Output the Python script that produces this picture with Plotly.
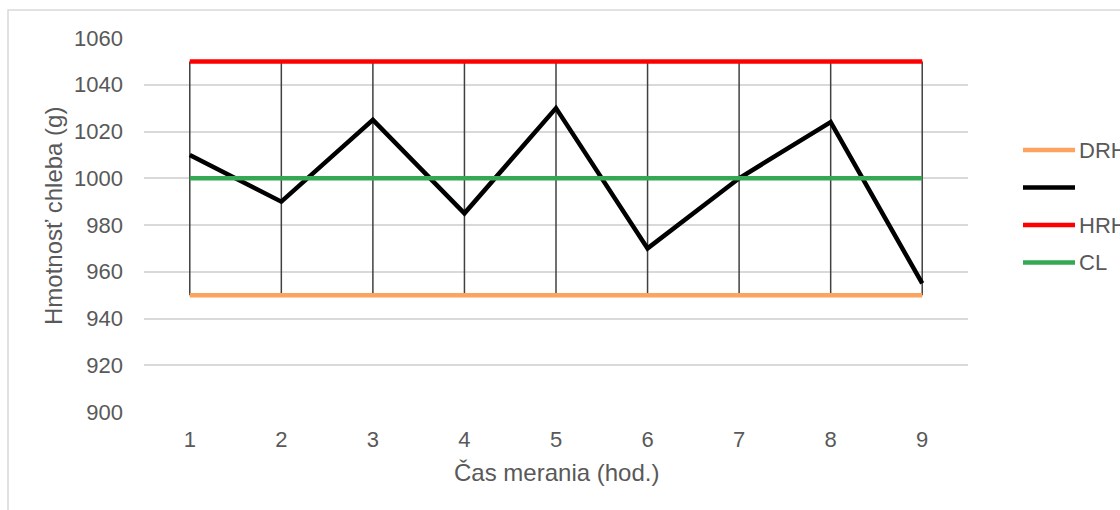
import plotly.graph_objects as go

# Measurement hours and bread weights (g)
hours = ["1", "2", "3", "4", "5", "6", "7", "8", "9"]
weight = [1010, 990, 1025, 985, 1030, 970, 1000, 1024, 955]
drh = [950] * 9   # lower control limit
hrh = [1050] * 9  # upper control limit
cl = [1000] * 9   # centre line
y_ticks = [900, 920, 940, 960, 980, 1000, 1020, 1040, 1060]

FONT = "Liberation Sans, Arial, sans-serif"
TXT = "#595959"
FS_TICK = 22
FS_TITLE = 24

# plot area in pixels
W, H = 1120, 510
L, R, T, B = 144, 968, 38, 412
pw, ph = R - L, B - T


def px(x):
    return (x - L) / pw


def py(y):
    return (B - y) / ph


series = [
    ("DRH", drh, "#FBA35F"),
    ("", weight, "#000000"),
    ("HRH", hrh, "#FF0000"),
    ("CL", cl, "#35A853"),
]

fig = go.Figure()

# high-low lines spanning all series at each hour
hx, hy = [], []
for i, h in enumerate(hours):
    vals = [s[1][i] for s in series]
    hx += [h, h, None]
    hy += [min(vals), max(vals), None]
fig.add_trace(go.Scatter(x=hx, y=hy, mode="lines",
                         line=dict(color="#404040", width=1.5),
                         hoverinfo="skip", showlegend=False))

for name, vals, color in series:
    fig.add_trace(go.Scatter(x=hours, y=vals, mode="lines", name=name,
                             line=dict(color=color, width=4.5),
                             showlegend=False))

shapes = [
    # chart outline
    dict(type="rect", xref="paper", yref="paper",
         x0=px(8), x1=px(W + 20), y0=py(H + 20), y1=py(10),
         line=dict(color="#D9D9D9", width=1.5), fillcolor="rgba(0,0,0,0)",
         layer="below"),
]

# axis titles
annotations = [
    dict(text="Čas merania (hod.)", xref="paper", yref="paper",
         x=0.5, y=py(472), xanchor="center", yanchor="middle",
         showarrow=False, font=dict(family=FONT, size=FS_TITLE, color=TXT)),
    dict(text="Hmotnosť chleba (g)", xref="paper", yref="paper",
         x=px(53), y=py(216), xanchor="center", yanchor="middle",
         textangle=-90, showarrow=False,
         font=dict(family=FONT, size=FS_TITLE, color=TXT)),
]

# legend drawn to the right of the plot
leg_y = [150, 187.5, 225, 262.5]
for (name, vals, color), ly in zip(series, leg_y):
    shapes.append(dict(type="line", xref="paper", yref="paper",
                       x0=px(1023), x1=px(1075), y0=py(ly), y1=py(ly),
                       line=dict(color=color, width=4.5)))
    if name:
        annotations.append(dict(text=name, xref="paper", yref="paper",
                                x=px(1077), y=py(ly), xanchor="left",
                                yanchor="middle", showarrow=False,
                                font=dict(family=FONT, size=FS_TICK,
                                          color=TXT)))

fig.update_layout(
    width=W, height=H,
    margin=dict(l=L, r=W - R, t=T, b=H - B),
    paper_bgcolor="white", plot_bgcolor="white",
    font=dict(family=FONT, size=FS_TICK, color=TXT),
    showlegend=False,
    shapes=shapes,
    annotations=annotations,
    xaxis=dict(type="category", range=[-0.5, 8.5], showgrid=False,
               zeroline=False, showline=False, ticks="",
               ticklabelstandoff=12,
               tickfont=dict(size=FS_TICK, color=TXT)),
    yaxis=dict(range=[900, 1060], tickvals=y_ticks,
               gridcolor="#D9D9D9", gridwidth=1.5, zeroline=False,
               showline=False, ticks="", ticklabelstandoff=20,
               tickfont=dict(size=FS_TICK, color=TXT)),
)

fig.write_html("out.html")
